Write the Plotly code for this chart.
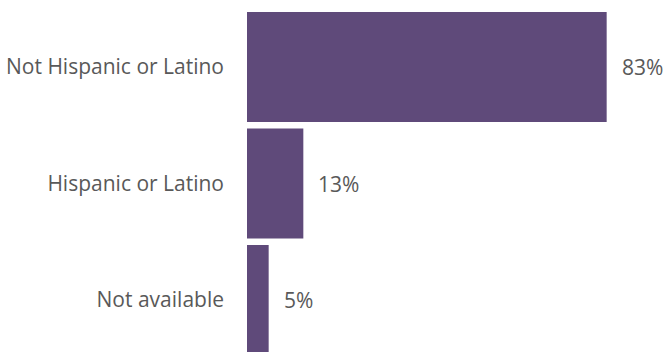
import plotly.graph_objects as go

# Ethnicity breakdown (percent of total)
categories = ["Not Hispanic or Latino", "Hispanic or Latino", "Not available"]
values = [83, 13, 5]
value_labels = ["83%", "13%", "5%"]

BAR_COLOR = "#5f4a7a"
TEXT_COLOR = "#595959"
FONT = "'Open Sans', sans-serif"
FONT_SIZE = 21

fig = go.Figure(
    go.Bar(
        x=values,
        y=categories,
        orientation="h",
        marker=dict(color=BAR_COLOR, line=dict(width=0)),
        width=0.944,
        hoverinfo="skip",
    )
)

# Percentage labels sitting just past the end of each bar
for cat, val, lab in zip(categories, values, value_labels):
    fig.add_annotation(
        x=val, y=cat, xref="x", yref="y",
        text=lab, showarrow=False,
        xanchor="left", yanchor="middle", xshift=13,
        font=dict(family=FONT, size=FONT_SIZE, color=TEXT_COLOR),
    )

fig.update_layout(
    width=665, height=352,
    margin=dict(l=247, r=28, t=0, b=0),
    paper_bgcolor="white", plot_bgcolor="white",
    showlegend=False,
    font=dict(family=FONT, size=FONT_SIZE, color=TEXT_COLOR),
    xaxis=dict(range=[0, 90], visible=False, fixedrange=True),
    yaxis=dict(
        type="category",
        categoryorder="array", categoryarray=categories,
        range=[2.446, -0.575],
        showgrid=False, zeroline=False, showline=False,
        ticks="", ticklabelstandoff=22,
        tickfont=dict(family=FONT, size=FONT_SIZE, color=TEXT_COLOR),
        fixedrange=True,
    ),
)

fig.write_html("out.html")
